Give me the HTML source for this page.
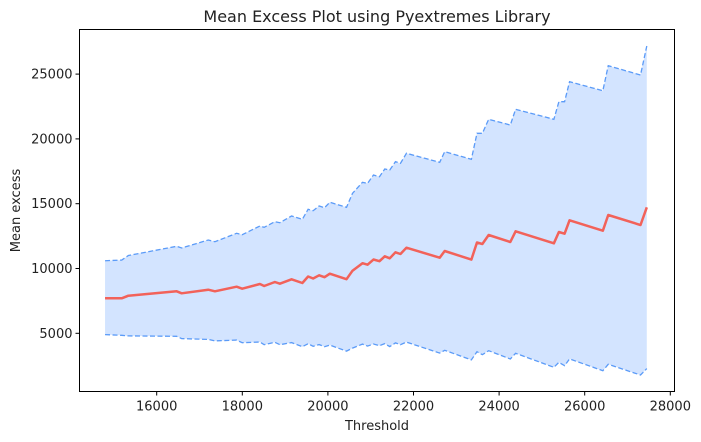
<!DOCTYPE html>
<html><head><meta charset="utf-8"><style>
html,body{margin:0;padding:0;background:#fff;}
svg{display:block;font-family:"DejaVu Sans","Liberation Sans",sans-serif;}
</style></head><body>
<svg id="chart" width="701" height="442" viewBox="0 0 701 442"></svg>
<script>
const thresholds=[14793,15183,15337,16467,16583,17204,17361,17867,17998,18411,18511,18761,18878,19151,19403,19538,19655,19795,19921,20045,20435,20575,20808,20927,21065,21205,21329,21445,21578,21695,21835,22612,22729,23352,23483,23609,23756,24262,24386,25280,25397,25530,25646,26424,26550,27304,27451];
const meanExcess=[7700,7700,7900,8241,8086,8364,8241,8596,8441,8804,8650,8958,8827,9167,8881,9383,9228,9475,9329,9599,9174,9830,10409,10293,10694,10563,10941,10787,11250,11119,11605,10833,11350,10687,12006,11890,12585,12045,12870,11944,12816,12685,13719,12916,14128,13356,14722];
const upperCI=[10600,10650,11000,11713,11582,12199,12068,12716,12608,13279,13179,13611,13534,14051,13796,14568,14460,14823,14691,15108,14722,15802,16651,16574,17214,17083,17677,17600,18241,18117,18889,18194,19012,18426,20432,20430,21512,21072,22284,21512,22870,22870,24413,23719,25648,24930,27168];
const lowerCI=[4900,4846,4799,4769,4590,4529,4414,4476,4274,4329,4121,4305,4120,4283,3966,4198,3996,4127,3967,4090,3626,3858,4167,4012,4174,4043,4205,3974,4259,4121,4321,3472,3688,2948,3580,3350,3658,3018,3456,2376,2762,2500,3025,2113,2608,1782,2276];
const xTicks=[16000,18000,20000,22000,24000,26000,28000];
const yTicks=[5000,10000,15000,20000,25000];

const NS="http://www.w3.org/2000/svg";
const svg=document.getElementById('chart');
const L=79.5,R=674.5,T=29.5,B=391.5;
function X(v){return 156.7+(v-16000)*(85.6/2000);}
function Y(v){return 398.1-v*(64.8/5000);}
function mk(tag,attrs,parent){const e=document.createElementNS(NS,tag);for(const k in attrs)e.setAttribute(k,attrs[k]);(parent||svg).appendChild(e);return e;}

let d="";
thresholds.forEach((t,i)=>{d+=(i?"L":"M")+X(t).toFixed(2)+","+Y(upperCI[i]).toFixed(2);});
for(let i=thresholds.length-1;i>=0;i--){d+="L"+X(thresholds[i]).toFixed(2)+","+Y(lowerCI[i]).toFixed(2);}
d+="Z";
const band=mk('path',{d:d,fill:'#d3e4ff',stroke:'none'});



function line(arr,attrs,name){
  const p=thresholds.map((t,i)=>X(t).toFixed(2)+","+Y(arr[i]).toFixed(2)).join(" ");
  const e=mk('polyline',Object.assign({points:p,fill:'none'},attrs));
  
  
  return e;
}
line(upperCI,{stroke:'#5b9bf8','stroke-width':1.3,'stroke-dasharray':'5,2.5'},'upper-ci-line');
line(lowerCI,{stroke:'#5b9bf8','stroke-width':1.3,'stroke-dasharray':'5,2.5'},'lower-ci-line');
line(meanExcess,{stroke:'#f2625a','stroke-width':2.5,'stroke-linejoin':'round'},'mean-excess-line');

const frame=mk('rect',{x:L,y:T,width:R-L,height:B-T,fill:'none',stroke:'#000','stroke-width':1});



xTicks.forEach(v=>{
  const x=X(v);
  const tk=mk('line',{x1:x,x2:x,y1:B,y2:B+4,stroke:'#000','stroke-width':1});
  
  
  const t=mk('text',{x:x,y:B+19,'text-anchor':'middle','font-size':'13',fill:'#222'});
  t.textContent=v;
  
  
});
yTicks.forEach(v=>{
  const y=Y(v);
  const tk=mk('line',{x1:L-4,x2:L,y1:y,y2:y,stroke:'#000','stroke-width':1});
  
  
  const t=mk('text',{x:L-7,y:y+4.5,'text-anchor':'end','font-size':'13',fill:'#222'});
  t.textContent=v;
  
  
});
const title=mk('text',{x:(L+R)/2,y:22,'text-anchor':'middle','font-size':'16',fill:'#222'});
title.textContent="Mean Excess Plot using Pyextremes Library";


const xl=mk('text',{x:(L+R)/2,y:430,'text-anchor':'middle','font-size':'13',fill:'#222'});
xl.textContent="Threshold";


const yl=mk('text',{x:0,y:0,'text-anchor':'middle','font-size':'13',fill:'#222',transform:'translate(20,'+((T+B)/2)+') rotate(-90)'});
yl.textContent="Mean excess";


</script>
</body></html>
